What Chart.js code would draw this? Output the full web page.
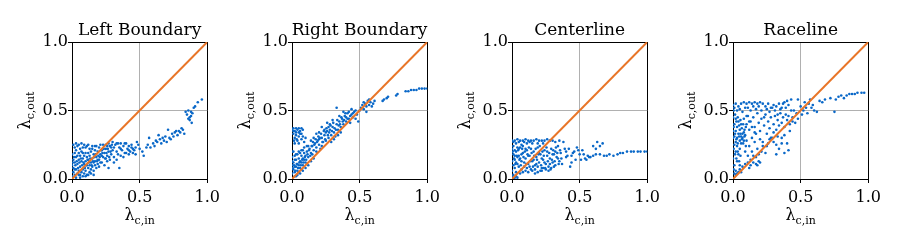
<!DOCTYPE html>
<html>
<head>
<meta charset="utf-8">
<script src="https://cdn.jsdelivr.net/npm/chart.js@4.4.1/dist/chart.umd.min.js"></script>
<style>
  body { margin: 0; background: #fff; width: 900px; height: 245px; position: relative; overflow: hidden; }
  .panel { position: absolute; top: 0; width: 225px; height: 245px; }
</style>
</head>
<body>
<div class="panel" style="left:0px"><canvas id="c0" width="225" height="245"></canvas></div>
<div class="panel" style="left:220px"><canvas id="c1" width="225" height="245"></canvas></div>
<div class="panel" style="left:440px"><canvas id="c2" width="225" height="245"></canvas></div>
<div class="panel" style="left:661px"><canvas id="c3" width="225" height="245"></canvas></div>
<script>
// Panel titles and axis ticks
const panelTitles = ['Left Boundary', 'Right Boundary', 'Centerline', 'Raceline'];
const tickValues = [0, 0.5, 1];
const diagonal = [0, 1];

// Scatter points [lambda_c,in, lambda_c,out]
const leftBoundaryPoints = [
  [0.01,0.25],[0.03,0.26],[0.05,0.25],[0.07,0.26],[0.09,0.25],[0.11,0.24],[0.02,0.23],[0.06,0.22],[0.10,0.23],[0.13,0.22],
  [0.00,0.18],[0.01,0.14],[0.02,0.12],[0.03,0.16],[0.04,0.11],[0.05,0.14],[0.06,0.09],[0.07,0.13],[0.08,0.15],[0.09,0.11],
  [0.10,0.13],[0.11,0.10],[0.12,0.14],[0.13,0.17],[0.14,0.12],[0.15,0.15],[0.16,0.18],[0.17,0.13],[0.18,0.16],[0.19,0.20],
  [0.20,0.14],[0.21,0.18],[0.22,0.21],[0.23,0.16],[0.24,0.19],[0.25,0.22],[0.26,0.17],[0.27,0.20],[0.28,0.24],[0.29,0.18],[0.30,0.21],
  [0.00,0.02],[0.01,0.05],[0.02,0.03],[0.03,0.07],[0.04,0.04],[0.05,0.06],[0.06,0.03],[0.07,0.05],[0.08,0.07],[0.09,0.04],
  [0.10,0.06],[0.11,0.03],[0.12,0.08],[0.13,0.05],[0.14,0.07],[0.15,0.09],[0.16,0.06],[0.17,0.10],[0.18,0.08],[0.19,0.11],
  [0.20,0.09],[0.22,0.12],[0.24,0.10],[0.26,0.13],[0.27,0.08],
  [0.00,0.10],[0.01,0.08],[0.02,0.19],[0.03,0.21],[0.04,0.17],[0.05,0.19],[0.06,0.17],[0.07,0.20],[0.08,0.19],[0.09,0.17],
  [0.10,0.19],[0.11,0.16],[0.12,0.19],[0.13,0.10],[0.14,0.20],[0.15,0.22],[0.16,0.12],[0.17,0.21],[0.18,0.24],[0.19,0.14],
  [0.20,0.23],[0.21,0.12],[0.22,0.17],[0.23,0.25],[0.25,0.15],[0.26,0.24],[0.28,0.14],[0.29,0.23],[0.31,0.16],[0.32,0.25],
  [0.33,0.20],[0.34,0.18],[0.35,0.23],[0.36,0.26],[0.37,0.21],[0.38,0.24],[0.39,0.19],[0.40,0.26],[0.41,0.22],[0.42,0.24],
  [0.43,0.20],[0.44,0.23],[0.45,0.19],[0.46,0.21],[0.48,0.27],[0.49,0.25],[0.35,0.08],[0.38,0.16],[0.33,0.26],[0.30,0.27],
  [0.005,0.12],[0.015,0.16],[0.025,0.10],[0.035,0.13],[0.045,0.08],[0.055,0.12],[0.065,0.15],[0.075,0.10],[0.085,0.12],[0.095,0.08],
  [0.105,0.10],[0.115,0.14],[0.125,0.12],[0.135,0.15],[0.145,0.10],[0.155,0.13],[0.165,0.16],[0.175,0.18],[0.185,0.13],[0.195,0.17],
  [0.205,0.16],[0.215,0.21],[0.225,0.19],[0.235,0.22],[0.245,0.15],[0.255,0.19],[0.265,0.22],[0.275,0.16],[0.285,0.20],[0.295,0.25],
  [0.04,0.24],[0.08,0.23],[0.12,0.25],[0.15,0.24],[0.17,0.24],[0.21,0.25],[0.25,0.25],[0.27,0.26],[0.31,0.23],[0.34,0.26],
  [0.36,0.22],[0.39,0.26],[0.42,0.21],[0.44,0.25],[0.47,0.23],[0.31,0.12],[0.33,0.14],[0.36,0.17],[0.40,0.19],[0.42,0.18],
  [0.45,0.22],[0.47,0.18],[0.03,0.01],[0.06,0.01],[0.08,0.02],[0.10,0.02],[0.12,0.03],[0.14,0.04],[0.16,0.03],[0.02,0.07],[0.05,0.03],
  [0.50,0.22],[0.52,0.20],[0.53,0.17],[0.55,0.23],[0.56,0.25],[0.57,0.30],[0.58,0.23],[0.60,0.26],[0.61,0.24],[0.62,0.28],
  [0.63,0.27],[0.64,0.32],[0.65,0.29],[0.66,0.26],[0.67,0.30],[0.68,0.28],[0.69,0.31],[0.70,0.27],[0.71,0.36],[0.72,0.30],
  [0.73,0.29],[0.74,0.33],[0.75,0.31],[0.76,0.34],[0.77,0.35],[0.78,0.32],[0.79,0.35],[0.80,0.34],[0.81,0.37],[0.82,0.36],[0.83,0.33],
  [0.84,0.49],[0.85,0.47],[0.86,0.50],[0.87,0.45],[0.87,0.43],[0.88,0.46],[0.885,0.41],[0.89,0.48],[0.90,0.52],[0.91,0.53],
  [0.93,0.56],[0.96,0.58],[0.86,0.44],[0.88,0.49]
];

const rightBoundaryPoints = [
  [0.00,0.36],[0.01,0.37],[0.02,0.35],[0.03,0.37],[0.04,0.36],[0.05,0.37],[0.06,0.35],[0.07,0.37],[0.08,0.36],[0.01,0.33],
  [0.02,0.30],[0.03,0.32],[0.04,0.28],[0.05,0.31],[0.06,0.33],[0.07,0.29],[0.08,0.31],[0.09,0.27],[0.10,0.30],[0.02,0.26],[0.05,0.26],
  [0.00,0.04],[0.01,0.07],[0.02,0.05],[0.03,0.09],[0.04,0.06],[0.05,0.10],[0.06,0.08],[0.07,0.12],[0.08,0.10],[0.09,0.14],
  [0.10,0.12],[0.00,0.10],[0.01,0.12],[0.02,0.09],[0.03,0.14],[0.04,0.11],[0.05,0.15],[0.06,0.13],[0.07,0.17],[0.08,0.15],
  [0.09,0.19],[0.10,0.17],[0.00,0.16],[0.01,0.20],[0.02,0.17],[0.03,0.02],[0.04,0.03],[0.05,0.05],[0.06,0.04],[0.07,0.07],
  [0.00,0.13],[0.02,0.14],[0.04,0.18],[0.06,0.19],[0.08,0.21],[0.11,0.20],[0.12,0.16],[0.13,0.22],[0.14,0.19],
  [0.15,0.24],[0.16,0.21],[0.17,0.26],[0.18,0.23],[0.19,0.28],[0.20,0.25],[0.21,0.22],[0.22,0.30],[0.23,0.27],[0.24,0.32],
  [0.25,0.28],[0.26,0.35],[0.27,0.30],[0.28,0.36],[0.29,0.32],[0.30,0.38],[0.31,0.34],[0.32,0.31],[0.33,0.40],[0.34,0.36],
  [0.35,0.42],[0.36,0.38],[0.37,0.44],[0.38,0.40],[0.39,0.46],[0.40,0.42],[0.41,0.48],[0.42,0.44],[0.43,0.41],[0.44,0.47],
  [0.45,0.45],[0.46,0.49],[0.48,0.47],[0.50,0.50],[0.26,0.41],[0.28,0.40],[0.30,0.43],[0.33,0.52],[0.35,0.46],[0.38,0.49],
  [0.40,0.45],[0.15,0.18],[0.18,0.20],[0.20,0.29],[0.22,0.24],[0.24,0.36],[0.12,0.24],[0.14,0.28],[0.16,0.30],[0.18,0.33],
  [0.20,0.34],[0.22,0.38],[0.25,0.34],[0.27,0.38],[0.29,0.27],[0.31,0.29],[0.34,0.32],[0.36,0.34],[0.42,0.49],[0.44,0.51],
  [0.47,0.44],[0.49,0.42],
  [0.005,0.08],[0.015,0.10],[0.025,0.06],[0.035,0.11],[0.045,0.08],[0.055,0.12],[0.065,0.10],[0.075,0.14],[0.085,0.12],[0.095,0.16],
  [0.105,0.14],[0.115,0.18],[0.125,0.21],[0.135,0.17],[0.145,0.24],[0.155,0.27],[0.165,0.25],[0.175,0.29],[0.185,0.27],[0.195,0.31],
  [0.205,0.30],[0.215,0.33],[0.225,0.27],[0.235,0.35],[0.245,0.29],[0.255,0.37],[0.265,0.32],[0.275,0.34],[0.285,0.39],[0.295,0.35],
  [0.305,0.41],[0.315,0.37],[0.325,0.36],[0.335,0.43],[0.345,0.39],[0.355,0.40],[0.365,0.45],[0.375,0.42],[0.385,0.43],[0.395,0.48],
  [0.41,0.44],[0.43,0.46],[0.45,0.48],[0.47,0.50],[0.01,0.35],[0.03,0.34],[0.05,0.34],[0.07,0.33],[0.015,0.28],[0.035,0.29],
  [0.00,0.20],[0.03,0.18],[0.05,0.20],[0.07,0.21],[0.09,0.23],[0.11,0.24],[0.02,0.02],[0.08,0.06],[0.10,0.08],[0.12,0.10],
  [0.14,0.13],[0.16,0.15],
  [0.51,0.52],[0.52,0.54],[0.53,0.51],[0.54,0.55],[0.55,0.53],[0.56,0.57],[0.57,0.54],[0.58,0.56],[0.59,0.53],[0.60,0.55],
  [0.61,0.57],[0.55,0.49],[0.57,0.58],[0.53,0.56],
  [0.67,0.57],[0.68,0.58],[0.70,0.59],[0.71,0.60],[0.77,0.61],[0.78,0.62],[0.84,0.64],[0.86,0.64],[0.88,0.65],[0.90,0.65],
  [0.92,0.65],[0.94,0.66],[0.96,0.66],[0.98,0.66],[1.00,0.66]
];

const centerlinePoints = [
  [0.00,0.28],[0.02,0.28],[0.04,0.29],[0.06,0.28],[0.08,0.28],[0.10,0.29],[0.12,0.28],[0.14,0.28],[0.16,0.28],[0.18,0.29],
  [0.20,0.28],[0.22,0.28],[0.24,0.28],[0.26,0.29],[0.01,0.27],[0.05,0.27],[0.09,0.27],[0.13,0.27],[0.03,0.26],[0.11,0.26],
  [0.00,0.22],[0.01,0.18],[0.02,0.14],[0.03,0.20],[0.04,0.11],[0.05,0.17],[0.06,0.23],[0.07,0.13],[0.08,0.19],[0.09,0.09],
  [0.10,0.15],[0.11,0.21],[0.12,0.11],[0.13,0.17],[0.14,0.07],[0.15,0.13],[0.16,0.20],[0.17,0.10],[0.18,0.16],[0.19,0.23],
  [0.20,0.12],[0.21,0.18],[0.22,0.08],[0.23,0.14],[0.24,0.21],[0.25,0.11],[0.26,0.17],[0.27,0.09],[0.28,0.15],[0.29,0.22],
  [0.30,0.12],[0.31,0.18],[0.32,0.10],[0.33,0.16],[0.34,0.24],[0.35,0.13],[0.36,0.19],[0.00,0.06],[0.01,0.03],[0.02,0.08],
  [0.03,0.05],[0.04,0.01],[0.05,0.09],[0.06,0.04],[0.07,0.07],[0.08,0.05],[0.09,0.12],[0.10,0.06],[0.11,0.08],[0.12,0.05],
  [0.13,0.09],[0.15,0.06],[0.17,0.07],[0.19,0.09],[0.21,0.06],[0.23,0.08],[0.25,0.07],[0.00,0.13],[0.01,0.24],[0.02,0.21],
  [0.03,0.12],[0.04,0.16],[0.05,0.22],[0.06,0.15],[0.07,0.18],[0.08,0.24],[0.10,0.22],[0.12,0.17],[0.14,0.22],[0.16,0.14],
  [0.18,0.11],[0.20,0.19],[0.22,0.15],[0.24,0.12],[0.26,0.20],[0.28,0.11],[0.30,0.18],[0.32,0.20],[0.34,0.15],
  [0.005,0.20],[0.015,0.15],[0.025,0.11],[0.035,0.17],[0.045,0.21],[0.055,0.14],[0.065,0.10],[0.075,0.22],[0.085,0.16],[0.095,0.20],
  [0.105,0.11],[0.115,0.18],[0.125,0.23],[0.135,0.13],[0.145,0.19],[0.155,0.09],[0.165,0.17],[0.175,0.22],[0.185,0.14],[0.195,0.18],
  [0.205,0.24],[0.215,0.10],[0.225,0.20],[0.235,0.17],[0.245,0.08],[0.255,0.23],[0.265,0.13],[0.275,0.19],[0.285,0.07],[0.295,0.14],
  [0.305,0.21],[0.315,0.13],[0.325,0.23],[0.335,0.19],[0.345,0.11],[0.355,0.21],[0.365,0.15],[0.00,0.02],[0.01,0.00],[0.02,0.01],
  [0.03,0.02],[0.01,0.10],[0.02,0.17],[0.04,0.23],[0.07,0.25],[0.15,0.26],[0.19,0.26],[0.23,0.26],[0.28,0.28],[0.30,0.28],
  [0.32,0.27],[0.35,0.28],[0.17,0.04],[0.19,0.05],[0.22,0.06],[0.27,0.06],[0.29,0.08],[0.31,0.09],
  [0.38,0.27],[0.40,0.16],[0.42,0.22],[0.44,0.12],[0.45,0.19],[0.47,0.14],[0.48,0.23],[0.50,0.18],[0.52,0.21],[0.54,0.15],
  [0.56,0.17],[0.58,0.16],[0.60,0.24],[0.62,0.22],[0.63,0.27],[0.65,0.24],[0.67,0.26],[0.41,0.17],[0.43,0.09],[0.46,0.20],
  [0.37,0.11],[0.39,0.22],[0.40,0.20],[0.44,0.17],[0.49,0.21],[0.53,0.18],[0.51,0.14],
  [0.55,0.14],[0.57,0.16],[0.60,0.17],[0.62,0.18],[0.65,0.18],[0.68,0.17],[0.70,0.17],[0.72,0.18],[0.75,0.17],[0.78,0.18],
  [0.80,0.19],[0.82,0.19],[0.85,0.20],[0.88,0.20],[0.90,0.20],[0.93,0.20],[0.95,0.20],[0.98,0.20],[1.00,0.20]
];

const racelinePoints = [
  [0.00,0.54],[0.02,0.55],[0.04,0.53],[0.06,0.55],[0.08,0.56],[0.10,0.55],[0.12,0.56],[0.14,0.55],[0.16,0.56],[0.18,0.55],
  [0.20,0.56],[0.22,0.55],[0.24,0.53],[0.26,0.55],[0.28,0.52],[0.30,0.54],[0.32,0.53],[0.34,0.55],[0.36,0.52],[0.38,0.56],
  [0.40,0.57],[0.43,0.58],[0.01,0.52],[0.03,0.50],[0.05,0.51],[0.07,0.49],[0.09,0.52],
  [0.00,0.45],[0.01,0.40],[0.02,0.35],[0.00,0.30],[0.01,0.25],[0.02,0.20],[0.00,0.15],[0.01,0.10],[0.02,0.06],[0.03,0.04],
  [0.04,0.05],[0.05,0.07],[0.06,0.05],[0.03,0.30],[0.04,0.33],[0.05,0.28],[0.06,0.31],[0.03,0.38],[0.04,0.42],[0.05,0.36],
  [0.06,0.40],[0.07,0.33],[0.08,0.28],[0.02,0.44],[0.03,0.24],[0.04,0.18],[0.05,0.22],[0.06,0.26],[0.07,0.30],[0.08,0.34],
  [0.09,0.32],[0.10,0.28],[0.00,0.35],[0.01,0.31],[0.03,0.13],[0.02,0.27],
  [0.005,0.50],[0.015,0.47],[0.025,0.42],[0.035,0.45],[0.045,0.39],[0.055,0.43],[0.065,0.37],[0.075,0.40],[0.085,0.36],[0.095,0.38],
  [0.005,0.38],[0.015,0.33],[0.025,0.29],[0.035,0.26],[0.045,0.31],[0.055,0.33],[0.065,0.29],[0.075,0.26],[0.085,0.31],[0.095,0.24],
  [0.005,0.22],[0.015,0.18],[0.025,0.15],[0.035,0.20],[0.045,0.13],[0.055,0.17],[0.01,0.04],[0.02,0.03],[0.005,0.07],
  [0.08,0.44],[0.10,0.40],[0.11,0.46],[0.12,0.36],[0.13,0.42],[0.14,0.30],[0.15,0.45],[0.16,0.38],[0.17,0.33],[0.18,0.48],
  [0.19,0.41],[0.20,0.35],[0.21,0.44],[0.22,0.27],[0.23,0.39],[0.24,0.47],[0.25,0.33],[0.26,0.42],[0.27,0.37],[0.28,0.45],
  [0.29,0.30],[0.30,0.40],[0.31,0.46],[0.32,0.36],[0.33,0.43],[0.34,0.39],[0.35,0.48],[0.36,0.41],[0.37,0.45],[0.38,0.38],
  [0.39,0.47],[0.40,0.43],[0.41,0.46],[0.42,0.40],[0.12,0.24],[0.14,0.20],[0.16,0.27],[0.18,0.22],[0.20,0.29],[0.22,0.24],
  [0.24,0.19],[0.26,0.26],[0.28,0.30],[0.30,0.27],[0.32,0.25],[0.34,0.22],[0.36,0.30],[0.38,0.19],[0.40,0.26],[0.41,0.21],
  [0.32,0.18],[0.09,0.20],[0.11,0.17],[0.13,0.14],
  [0.11,0.52],[0.13,0.50],[0.15,0.53],[0.17,0.51],[0.19,0.53],[0.21,0.50],[0.23,0.45],[0.25,0.51],[0.27,0.49],[0.29,0.52],
  [0.31,0.50],[0.33,0.47],[0.35,0.51],[0.37,0.55],[0.39,0.52],[0.41,0.54],[0.43,0.50],[0.44,0.42],[0.42,0.35],[0.38,0.32],
  [0.36,0.26],[0.33,0.31],[0.30,0.34],[0.27,0.29],[0.25,0.24],[0.21,0.20],[0.19,0.18],[0.17,0.16],[0.15,0.17],[0.16,0.34],
  [0.14,0.38],[0.12,0.42],[0.10,0.46],
  [0.05,0.10],[0.07,0.09],[0.09,0.11],[0.11,0.12],[0.13,0.10],[0.15,0.12],[0.17,0.11],[0.19,0.13],[0.18,0.10],[0.20,0.12],[0.12,0.08],
  [0.45,0.50],[0.47,0.48],[0.48,0.44],[0.50,0.53],[0.51,0.47],[0.52,0.50],[0.53,0.56],[0.54,0.52],[0.55,0.48],[0.56,0.55],
  [0.57,0.58],[0.58,0.52],[0.59,0.54],[0.60,0.50],[0.62,0.49],[0.46,0.41],[0.44,0.45],[0.48,0.58],
  [0.64,0.57],[0.66,0.56],[0.68,0.58],[0.72,0.59],[0.75,0.49],[0.76,0.58],[0.78,0.60],[0.80,0.61],[0.82,0.59],[0.84,0.61],
  [0.86,0.62],[0.88,0.62],[0.90,0.62],[0.92,0.63],[0.95,0.63],[0.97,0.63]
];

const panelPoints = [leftBoundaryPoints, rightBoundaryPoints, centerlinePoints, racelinePoints];

const SERIF = '"DejaVu Serif", serif';
const BLUE = 'rgb(10, 104, 200)';
const ORANGE = 'rgb(232, 117, 40)';

// Draw "λ" with a smaller lowered subscript, centred on cx
function drawLambda(ctx, cx, baseline, sub) {
    ctx.font = '16px ' + SERIF;
    const w1 = ctx.measureText('λ').width;
    ctx.font = '11px ' + SERIF;
    const w2 = ctx.measureText(sub).width;
    const x0 = cx - (w1 + w2) / 2;
    ctx.textAlign = 'left';
    ctx.textBaseline = 'alphabetic';
    ctx.font = '16px ' + SERIF;
    ctx.fillText('λ', x0, baseline);
    ctx.font = '11px ' + SERIF;
    ctx.fillText(sub, x0 + w1, baseline + 3.5);
}

// Panel title and both axis labels, placed relative to the chart area
const panelText = {
    id: 'panelText',
    afterDraw(chart, args, opts) {
        const { ctx, chartArea } = chart;
        const cx = (chartArea.left + chartArea.right) / 2;
        const cy = (chartArea.top + chartArea.bottom) / 2;
        ctx.save();
        ctx.fillStyle = '#000';
        ctx.font = '17px ' + SERIF;
        ctx.textAlign = 'center';
        ctx.textBaseline = 'alphabetic';
        ctx.fillText(opts.title, cx, 34.5);
        drawLambda(ctx, cx, 220, 'c,in');
        ctx.translate(30, cy);
        ctx.rotate(-Math.PI / 2);
        drawLambda(ctx, 0, 0, 'c,out');
        ctx.restore();
    }
};

function axisOptions(isY) {
    return {
        type: 'linear',
        min: 0,
        max: 1,
        afterBuildTicks: scale => {
            scale.ticks = tickValues.map(v => ({ value: v }));
        },
        afterFit: scale => {
            if (isY) scale.width = 72;
            else scale.height = 66;
        },
        grid: {
            color: ctx => (ctx.tick && ctx.tick.value === 0.5) ? '#b0b0b0' : '#000',
            lineWidth: 1,
            tickColor: '#000',
            tickLength: 4,
            drawTicks: true
        },
        border: { display: true, color: '#000', width: 1 },
        ticks: {
            font: { family: SERIF, size: 16 },
            color: '#000',
            padding: isY ? 0 : 5,
            maxRotation: 0,
            callback: value => value.toFixed(1)
        }
    };
}

panelTitles.forEach((title, i) => {
    const ctx = document.getElementById('c' + i).getContext('2d');
    new Chart(ctx, {
        type: 'scatter',
        data: {
            datasets: [
                {
                    type: 'line',
                    data: diagonal.map(v => ({ x: v, y: v })),
                    borderColor: ORANGE,
                    borderWidth: 2,
                    pointRadius: 0,
                    order: 0
                },
                {
                    data: panelPoints[i].map(p => ({ x: p[0], y: p[1] })),
                    backgroundColor: BLUE,
                    borderWidth: 0,
                    pointRadius: 1.3,
                    order: 1
                }
            ]
        },
        options: {
            responsive: false,
            animation: false,
            layout: { autoPadding: false, padding: { top: 42, right: 16, bottom: 0, left: 0 } },
            plugins: {
                legend: { display: false },
                tooltip: { enabled: false },
                title: { display: false },
                panelText: { title: title }
            },
            scales: {
                x: axisOptions(false),
                y: axisOptions(true)
            }
        },
        plugins: [panelText]
    });
});
</script>
</body>
</html>
